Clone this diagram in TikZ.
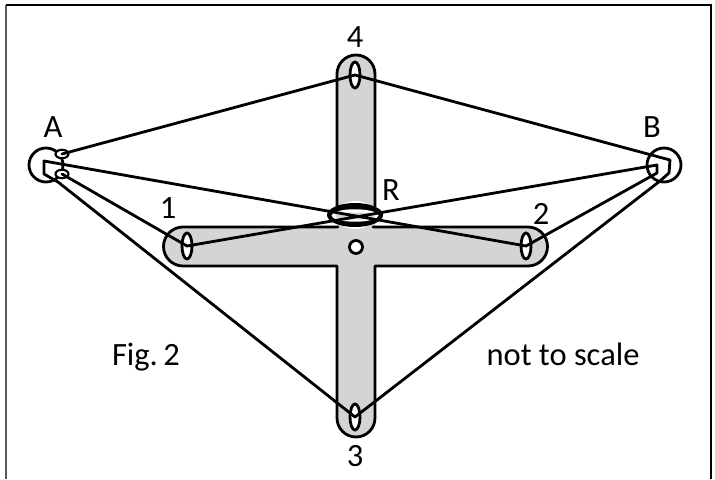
\documentclass[tikz,border=0pt]{standalone}
\usepackage{fontspec}
\setmainfont{Carlito}
\usetikzlibrary{shapes.geometric}
\definecolor{armgray}{gray}{0.83}
\begin{document}
\begin{tikzpicture}[
    x=0.02cm, y=-0.02cm,
    every node/.style={font=\fontsize{18.5}{20}\selectfont},
    lb/.style={anchor=base, inner sep=0pt},
    l/.style={line width=1.6pt, line join=round, line cap=round},
    pt/.style={draw, ellipse, line width=1.6pt, fill=white, inner sep=0pt, minimum width=0.2cm, minimum height=0.52cm},
    src/.style={draw, circle, line width=1.6pt, inner sep=0pt, minimum size=0.68cm},
    mir/.style={draw, ellipse, line width=1.2pt, inner sep=0pt, minimum width=0.26cm, minimum height=0.17cm, fill=white},
    rr/.style={ellipse, inner sep=0pt}
]
\useasboundingbox (0,0) rectangle (715,479);
% frame
\draw[line width=1.4pt, black!65] (6,479) -- (6,5);
\draw[line width=1pt] (6,5) -- (711,5) -- (711,479);
% gray arms
\fill[armgray] (337,74) arc[start angle=180, end angle=0, radius=0.38cm] -- (375,227) -- (528,227)
    arc[start angle=90, end angle=-90, radius=0.39cm] -- (375,266) -- (375,418)
    arc[start angle=360, end angle=180, radius=0.38cm] -- (337,266) -- (183,266)
    arc[start angle=270, end angle=90, radius=0.39cm] -- (337,227) -- cycle;
\draw[l] (337,207) -- (337,74) arc[start angle=180, end angle=0, radius=0.38cm] -- (375,207);
\draw[l] (338,227) -- (183,227) arc[start angle=90, end angle=270, radius=0.39cm] -- (337,266) -- (337,418)
    arc[start angle=180, end angle=360, radius=0.38cm] -- (375,266) -- (528,266)
    arc[start angle=-90, end angle=90, radius=0.39cm] -- (373,227);
% reflector
\node[rr, fill=white, minimum width=0.8cm, minimum height=0.56cm] (halo) at (355,215) {};
\node[rr, fill=black, minimum width=1.12cm, minimum height=0.48cm] (rout) at (355,215) {};
\node[rr, fill=white, minimum width=0.94cm, minimum height=0.25cm] (rmid) at (355,215.5) {};
\node[rr, fill=armgray, minimum width=0.8cm, minimum height=0.14cm] (rin) at (355,216) {};
\node[draw, circle, line width=1.6pt, fill=white, inner sep=0pt, minimum size=0.26cm] (hub) at (356,247) {};
% ports
\node[pt] (p1) at (187,246) {};
\node[pt] (p2) at (526,246) {};
\node[pt] (p3) at (355,417) {};
\node[pt] (p4) at (355,75) {};
% sources
\node[src] (a) at (46,165) {};
\node[src] (b) at (664,165) {};
\node[mir] (am1) at (62,154) {};
\node[mir] (am2) at (62,174) {};
\coordinate (a1) at (44,161);
\coordinate (a2) at (44,174);
\coordinate (a3) at (58,182);
\coordinate (b1) at (670,160);
\coordinate (b2) at (669,173);
\coordinate (b3) at (660,181);
\coordinate (b4) at (657,165);
\coordinate (b5) at (657,173);
% rays
\draw[l] (am1.center) -- (p4.center) -- (b1) -- (b2) -- (b3) -- (p3.center) -- (a3) -- (a2) -- (a1) -- (p2.center) -- (b5) -- (b4) -- (p1.center) -- (am2.center);
% labels
\node[lb] (la) at (53,138) {A};
\node[lb] (lb) at (652,138) {B};
\node[lb] (l1) at (168,218) {1};
\node[lb] (l2) at (541,224) {2};
\node[lb] (l3) at (355,466) {3};
\node[lb] (l4) at (355,48) {4};
\node[lb] (lr) at (391,200) {R};
\node[lb] (fig) at (146,365) {Fig.\kern-1pt\ 2};
\node[lb] (ns) at (563,365) {not to scale};
\end{tikzpicture}
\end{document}
